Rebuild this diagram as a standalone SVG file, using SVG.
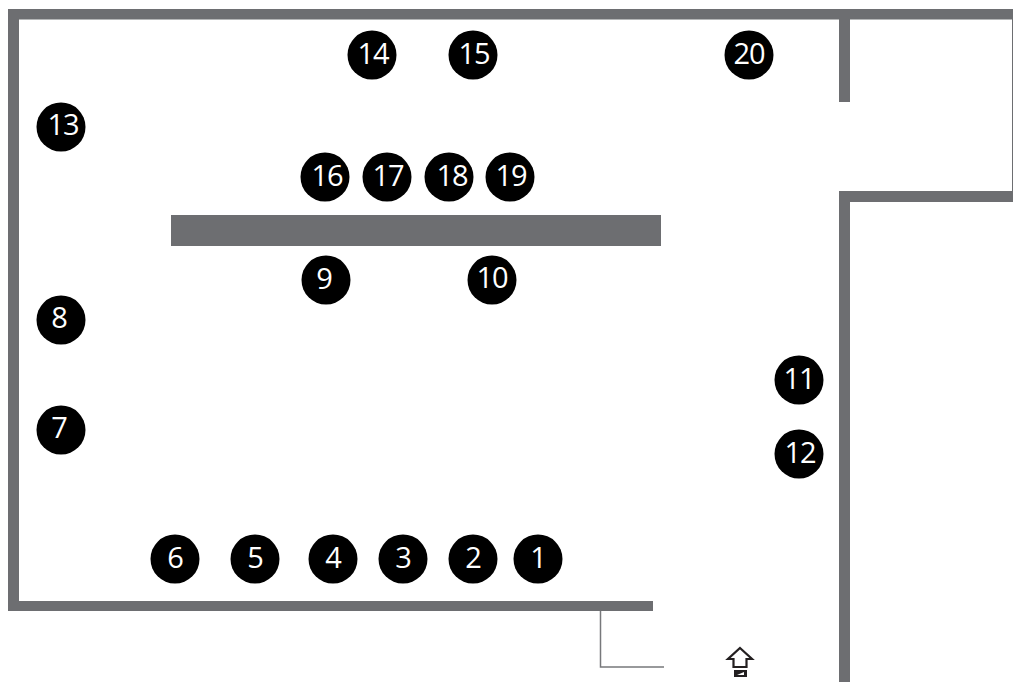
<svg xmlns="http://www.w3.org/2000/svg" width="1013" height="682" viewBox="0 0 1013 682">
<style>
.wall{fill:#6d6e71}
.node circle{fill:#000;r:24.5px}
.node text{fill:#fff;font-family:"Open Sans","Noto Sans",sans-serif;font-size:29px;text-anchor:middle;letter-spacing:-1px}
</style>
<rect width="1013" height="682" fill="#fff"/>
<g id="walls">
<rect class="wall" x="8" y="9" width="1005" height="10.500"/>
<rect class="wall" x="8" y="9" width="11" height="602"/>
<rect class="wall" x="8" y="601" width="645" height="10"/>
<rect class="wall" x="839" y="9" width="11" height="93"/>
<rect class="wall" x="1012" y="9" width="1" height="193"/>
<rect class="wall" x="839" y="191" width="174" height="11"/>
<rect class="wall" x="839" y="191" width="11" height="491"/>
<rect class="wall" x="171" y="215" width="490" height="31"/>
</g>
<g id="connectors">
<path d="M600.500 611V667H664" fill="none" stroke="#77787b" stroke-width="1.500"/>
</g>
<g id="entrance">
<path d="M740 648L752 659H746.500V667H733.500V659H728Z" fill="#fff" stroke="#231f20" stroke-width="2.200"/>
<rect x="734" y="670" width="13" height="7" fill="#231f20"/>
<path d="M737 675L744 672V675Z" fill="#fff"/>
</g>
<g id="n1" class="node"><circle cx="538" cy="559"/><text x="538" y="568">1</text></g>
<g id="n2" class="node"><circle cx="473" cy="559"/><text x="473" y="568">2</text></g>
<g id="n3" class="node"><circle cx="403" cy="559"/><text x="403" y="568">3</text></g>
<g id="n4" class="node"><circle cx="333" cy="559"/><text x="333" y="568">4</text></g>
<g id="n5" class="node"><circle cx="255" cy="559"/><text x="255" y="568">5</text></g>
<g id="n6" class="node"><circle cx="175" cy="559"/><text x="175" y="568">6</text></g>
<g id="n7" class="node"><circle cx="61" cy="430"/><text x="59" y="438">7</text></g>
<g id="n8" class="node"><circle cx="61" cy="320"/><text x="59" y="328">8</text></g>
<g id="n9" class="node"><circle cx="326" cy="280"/><text x="324" y="289">9</text></g>
<g id="n10" class="node"><circle cx="492" cy="280"/><text x="492" y="288">10</text></g>
<g id="n11" class="node"><circle cx="799" cy="380"/><text x="799" y="389">11</text></g>
<g id="n12" class="node"><circle cx="799" cy="454"/><text x="800" y="463">12</text></g>
<g id="n13" class="node"><circle cx="61" cy="127"/><text x="63" y="135">13</text></g>
<g id="n14" class="node"><circle cx="372" cy="55"/><text x="373" y="64">14</text></g>
<g id="n15" class="node"><circle cx="473" cy="55"/><text x="474" y="64">15</text></g>
<g id="n16" class="node"><circle cx="325" cy="177"/><text x="327" y="186">16</text></g>
<g id="n17" class="node"><circle cx="387" cy="177"/><text x="388" y="186">17</text></g>
<g id="n18" class="node"><circle cx="449" cy="177"/><text x="452" y="186">18</text></g>
<g id="n19" class="node"><circle cx="510" cy="177"/><text x="511" y="186">19</text></g>
<g id="n20" class="node"><circle cx="749" cy="55"/><text x="749" y="64">20</text></g>
</svg>
